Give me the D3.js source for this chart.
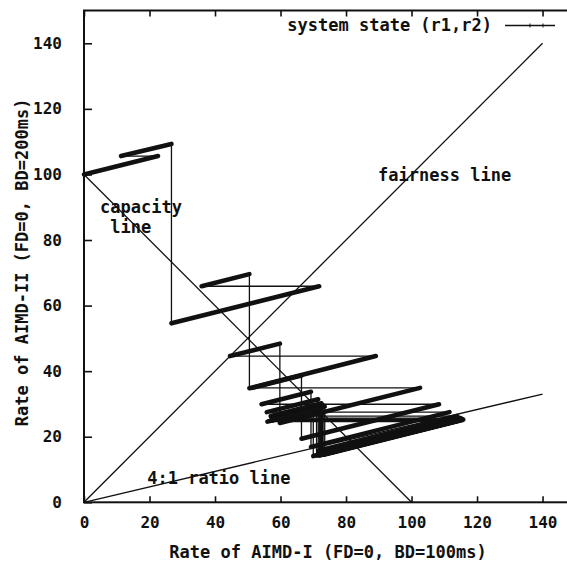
<!DOCTYPE html>
<html>
<head>
<meta charset="utf-8">
<script src="https://cdn.jsdelivr.net/npm/d3@7"></script>
<style>
  html, body { margin: 0; padding: 0; background: #fff; }
  svg { display: block; }
  text { font-family: "DejaVu Sans Mono", monospace; font-weight: bold; fill: #111; }
</style>
</head>
<body>
<svg id="chart" width="567" height="564"></svg>
<script>
// ---- data ----
const xTicks = [0, 20, 40, 60, 80, 100, 120, 140];
const yTicks = [0, 20, 40, 60, 80, 100, 120, 140];
const xTitle = "Rate of AIMD-I (FD=0, BD=100ms)";
const yTitle = "Rate of AIMD-II (FD=0, BD=200ms)";
const legendLabel = "system state (r1,r2)";

// system state trajectory (r1, r2)
const stateR1 = [0, 22.6, 11.3, 26.7, 26.7, 71.8, 35.9, 50.5, 50.5, 89.1, 44.6, 59.8, 59.8, 102.6, 51.3, 66.4, 66.4, 108.4, 54.2, 69.3, 69.3, 111.6, 55.8, 71.5, 71.5, 114.0, 57.0, 72.5, 72.5, 115.0, 57.5, 73.0, 73.0, 115.5, 57.7, 72.8, 72.8, 115.2, 57.6, 72.6,
  72.6, 115.0, 57.5, 71.0, 71.0, 113.2, 56.6, 72.0, 72.0, 115.4, 57.7, 73.5, 73.5, 115.8, 57.9, 70.0, 70.0, 112.0, 56.0, 71.8, 71.8, 114.8, 57.4, 72.2, 72.2, 114.6, 57.3, 71.4];
const stateR2 = [100, 105.6, 105.6, 109.3, 54.6, 65.9, 65.9, 69.6, 34.8, 44.6, 44.6, 48.4, 24.2, 34.9, 34.9, 38.7, 19.4, 29.9, 29.9, 33.7, 16.9, 27.5, 27.5, 31.4, 15.7, 26.3, 26.3, 30.2, 15.1, 25.7, 25.7, 29.6, 14.8, 25.4, 25.4, 29.2, 14.6, 25.2, 25.2, 29.0,
  14.5, 25.1, 25.1, 28.6, 14.3, 24.8, 24.8, 28.7, 14.4, 25.2, 25.2, 29.2, 14.6, 25.2, 25.2, 28.2, 14.1, 24.6, 24.6, 28.6, 14.3, 25.0, 25.0, 28.7, 14.4, 25.0, 25.0, 28.5];

// reference lines
const fairnessLine = [[0, 0], [140, 140]];
const capacityLine = [[0, 100], [100, 0]];
const ratioLine = [[0, 0], [140, 33]];

// annotation texts with data-space anchors
const annotations = [
  { text: "fairness line", x: 89.8, y: 98.0 },
  { text: "capacity", x: 4.9, y: 88.3 },
  { text: " line", x: 4.9, y: 82.0 },
  { text: "4:1 ratio line", x: 19.3, y: 5.6 }
];

// ---- drawing ----
const svg = d3.select("#chart");
const x = d3.scaleLinear().domain([0, 150]).range([84, 575.3]);
const y = d3.scaleLinear().domain([0, 150]).range([502.3, 10.5]);

const ink = "#111";

// frame
svg.append("rect")
  .attr("x", x(0)).attr("y", y(150))
  .attr("width", x(150) - x(0)).attr("height", y(0) - y(150))
  .attr("fill", "none").attr("stroke", ink).attr("stroke-width", 2);

// axes
const fmt = d3.format("d");
const gx = svg.append("g").attr("transform", `translate(0,${y(0)})`)
  .call(d3.axisBottom(x).tickValues(xTicks).tickFormat(fmt).tickSizeInner(-6).tickSizeOuter(0).tickPadding(14));
const gxTop = svg.append("g").attr("transform", `translate(0,${y(150)})`)
  .call(d3.axisTop(x).tickValues(xTicks).tickFormat("").tickSizeInner(-6).tickSizeOuter(0));
const gy = svg.append("g").attr("transform", `translate(${x(0)},0)`)
  .call(d3.axisLeft(y).tickValues(yTicks).tickFormat(fmt).tickSizeInner(-8).tickSizeOuter(0).tickPadding(22));
[gx, gxTop, gy].forEach(g => {
  g.select(".domain").remove();
  g.selectAll(".tick line").attr("stroke", ink).attr("stroke-width", 1.6);
  g.selectAll("text").attr("font-size", 16).attr("font-family", null).style("fill", ink);
});

// axis titles
svg.append("text").attr("x", (x(0) + 570) / 2 + 1).attr("y", 558)
  .attr("text-anchor", "middle").attr("font-size", 17).text(xTitle);
svg.append("text")
  .attr("transform", `translate(28,${(y(0) + y(150)) / 2 + 6}) rotate(-90)`)
  .attr("text-anchor", "middle").attr("font-size", 17).text(yTitle);

// reference lines
const line = d3.line().x(d => x(d[0])).y(d => y(d[1]));
[fairnessLine, capacityLine, ratioLine].forEach(l => {
  svg.append("path").attr("d", line(l)).attr("fill", "none")
    .attr("stroke", ink).attr("stroke-width", 1.3);
});

// trajectory
const traj = stateR1.map((r1, i) => [r1, stateR2[i]]);
const segs = d3.pairs(traj);
svg.append("g").selectAll("path").data(segs).join("path")
  .attr("d", d => line(d))
  .attr("fill", "none")
  .attr("stroke", ink)
  .attr("stroke-linecap", "round")
  .attr("stroke-width", d => (d[1][0] > d[0][0] && d[1][1] > d[0][1]) ? 4.6 : 1.3);

// annotations
svg.append("g").selectAll("text").data(annotations).join("text")
  .attr("x", d => x(d.x)).attr("y", d => y(d.y))
  .attr("font-size", 17)
  .attr("xml:space", "preserve")
  .style("white-space", "pre")
  .text(d => d.text);

// legend
svg.append("text").attr("x", 492).attr("y", 31).attr("text-anchor", "end")
  .attr("font-size", 17).text(legendLabel);
svg.append("line").attr("x1", 505).attr("x2", 555).attr("y1", 25.5).attr("y2", 25.5)
  .attr("stroke", ink).attr("stroke-width", 1.3);
[530, 543].forEach(px => {
  svg.append("line").attr("x1", px).attr("x2", px).attr("y1", 23.5).attr("y2", 27.5)
    .attr("stroke", ink).attr("stroke-width", 1);
});
</script>
</body>
</html>
